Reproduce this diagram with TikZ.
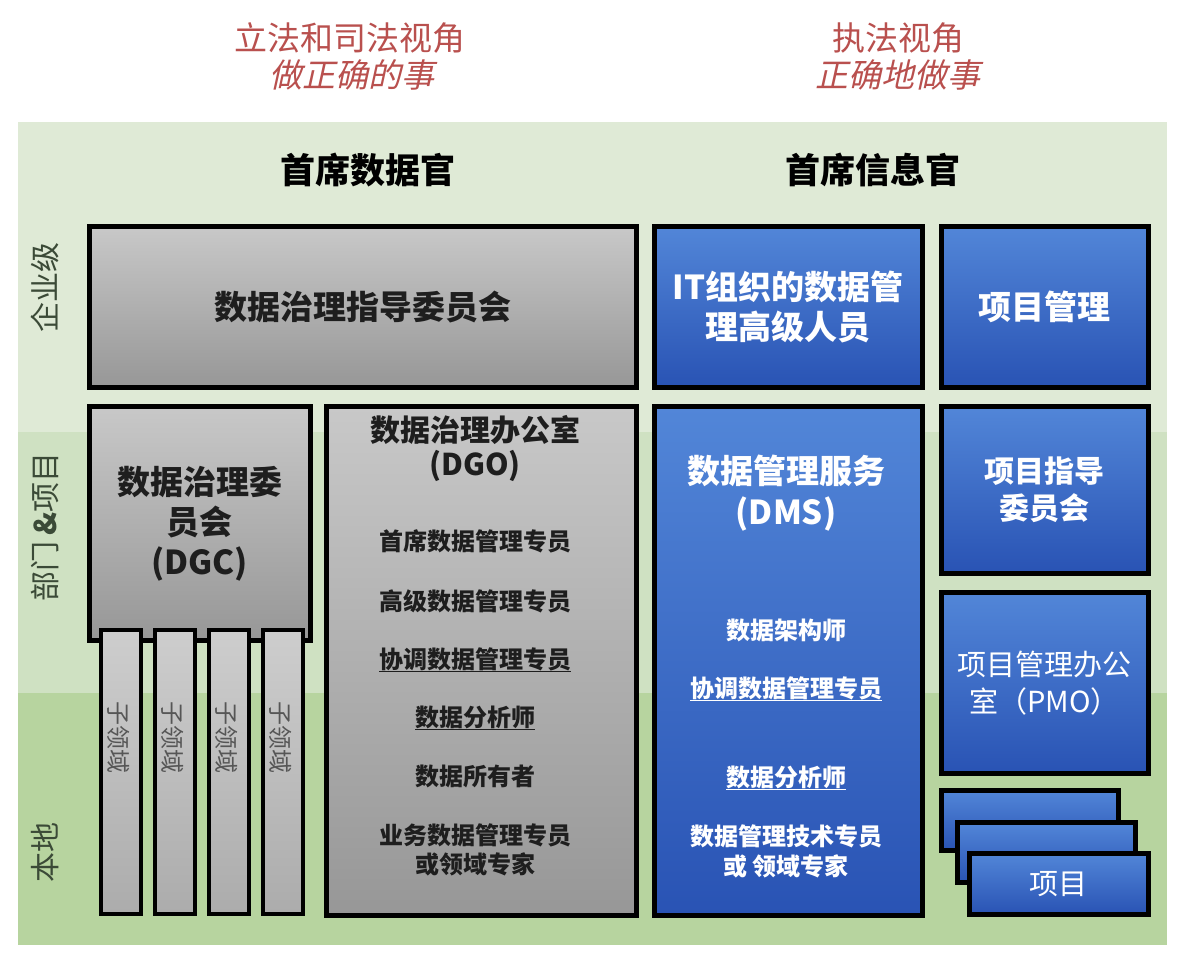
\documentclass[tikz,border=0pt]{standalone}
\usepackage{fontspec}
\setmainfont{Noto Sans CJK SC}
\newfontfamily\cjkslant[FakeSlant=0.22]{Noto Sans CJK SC}
\usetikzlibrary{positioning}

\definecolor{bandtop}{HTML}{DFEAD6}
\definecolor{bandmid}{HTML}{CFE1C2}
\definecolor{bandlow}{HTML}{B7D49F}
\definecolor{grayA}{HTML}{C8C8C8}
\definecolor{grayB}{HTML}{979797}
\definecolor{blueA}{HTML}{5286D8}
\definecolor{blueB}{HTML}{2953B4}
\definecolor{titlered}{HTML}{B9504E}
\definecolor{levelgreen}{HTML}{3B4A37}
\definecolor{textdark}{HTML}{1E1E1E}

\newcommand\ulined[1]{\setbox0\hbox{#1}\leavevmode\rlap{\rule[-4pt]{\wd0}{1.6pt}}\box0}

\tikzset{
  graybox/.style={draw=black, line width=4.5pt, top color=grayA, bottom color=grayB,
    inner sep=0pt, anchor=north west, shift={(2,2)}, text=textdark, align=center},
  bluebox/.style={draw=black, line width=4.5pt, top color=blueA, bottom color=blueB,
    inner sep=0pt, anchor=north west, shift={(2,2)}, text=white, align=center},
  bigtext/.style={font=\bfseries\fontsize{33}{40}\selectfont},
  midtext/.style={font=\bfseries\fontsize{30}{37}\selectfont},
  itemtext/.style={font=\bfseries\fontsize{24}{30}\selectfont, align=center},
  redtitle/.style={text=titlered, font=\fontsize{33}{40}\selectfont},
  redslant/.style={text=titlered, font=\cjkslant\fontsize{33}{40}\selectfont},
  headtitle/.style={text=black, font=\bfseries\fontsize{35}{42}\selectfont},
  leveltext/.style={text=levelgreen, font=\fontsize{30}{36}\selectfont, rotate=90},
  subtext/.style={text=textdark!75, font=\fontsize{24}{28}\selectfont, rotate=-90}
}

\begin{document}
\begin{tikzpicture}[x=1pt,y=-1pt]
\useasboundingbox (0,0) rectangle (1188,967);

% background bands
\fill[white] (0,0) rectangle (1188,967);
\fill[bandtop] (18,122) rectangle (1167,432);
\fill[bandmid] (18,432) rectangle (1167,693);
\fill[bandlow] (18,693) rectangle (1167,945);

% perspectives
\node[redtitle] (legal) at (350,38) {立法和司法视角};
\node[redslant] (rightthing) at (352,75) {做正确的事};
\node[redtitle] (enforce) at (898,38) {执法视角};
\node[redslant] (thingright) at (898,75) {正确地做事};

\node[headtitle] (cdo) at (368,170) {首席数据官};
\node[headtitle] (cio) at (873,170) {首席信息官};

% levels
\node[leveltext] (enterprise) at (45,287) {企业级};
\node[leveltext] (division) at (45,527) {部门 \textbf{\&}项目};
\node[leveltext] (local) at (45,852) {本地};

% enterprise row
\node[graybox, bigtext, minimum width=547, minimum height=161] (steer) at (85,222) {数据治理指导委员会};
\node[bluebox, bigtext, minimum width=268, minimum height=161] (itsenior) at (650,222) {IT组织的数据管\\理高级人员};
\node[bluebox, bigtext, minimum width=207, minimum height=161] (pm) at (937,222) {项目管理};

% data governance council
\node[graybox, bigtext, minimum width=221, minimum height=234] (dgc) at (85,402) {数据治理委\\员会\\(DGC)};
\foreach \x [count=\i] in {97,151,205,259} {
  \node[graybox, line width=4pt, top color=grayA!90, bottom color=grayB!80!white,
    minimum width=40, minimum height=284] (sub\i) at (\x,626) {};
  \node[subtext] (sublabel\i) at (\x+22,737) {子领域};
}

% data governance office
\node[graybox, minimum width=310, minimum height=509] (dgo) at (322,402) {};
\node[midtext, text=textdark] (dgotitle) at (475,430) {数据治理办公室};
\node[midtext, text=textdark] (dgoabbr) at (475,466) {(DGO)};
\node[itemtext, text=textdark] (chiefsteward) at (475,541) {首席数据管理专员};
\node[itemtext, text=textdark] (seniorsteward) at (475,601) {高级数据管理专员};
\node[itemtext, text=textdark] (coordsteward) at (475,660) {\ulined{协调数据管理专员}};
\node[itemtext, text=textdark] (analyst) at (475,718) {\ulined{数据分析师}};
\node[itemtext, text=textdark] (owner) at (475,776) {数据所有者};
\node[itemtext, text=textdark, font=\bfseries\fontsize{24}{29}\selectfont] (bizsteward) at (475,850) {业务数据管理专员\\或领域专家};

% data management services
\node[bluebox, minimum width=268, minimum height=509] (dms) at (650,402) {};
\node[bigtext, text=white] (dmstitle) at (786,471) {数据管理服务};
\node[bigtext, text=white] (dmsabbr) at (786,514) {(DMS)};
\node[itemtext, text=white] (architect) at (786,630) {数据架构师};
\node[itemtext, text=white] (dmscoord) at (786,689) {\ulined{协调数据管理专员}};
\node[itemtext, text=white] (dmsanalyst) at (786,778) {\ulined{数据分析师}};
\node[itemtext, text=white, font=\bfseries\fontsize{24}{30}\selectfont] (techsteward) at (786,851) {数据管理技术专员\\或 领域专家};

% project side
\node[bluebox, midtext, minimum width=207, minimum height=167] (psc) at (937,402) {项目指导\\委员会};
\node[bluebox, font=\fontsize{29}{37}\selectfont, minimum width=207, minimum height=181] (pmo) at (937,588) {项目管理办公\\室（PMO）};
\node[bluebox, minimum width=177, minimum height=60] (proj1) at (937,786) {};
\node[bluebox, minimum width=178, minimum height=60] (proj2) at (953,818) {};
\node[bluebox, font=\fontsize{29}{35}\selectfont, minimum width=179, minimum height=61] (proj3) at (965,849) {项目};
\end{tikzpicture}
\end{document}
